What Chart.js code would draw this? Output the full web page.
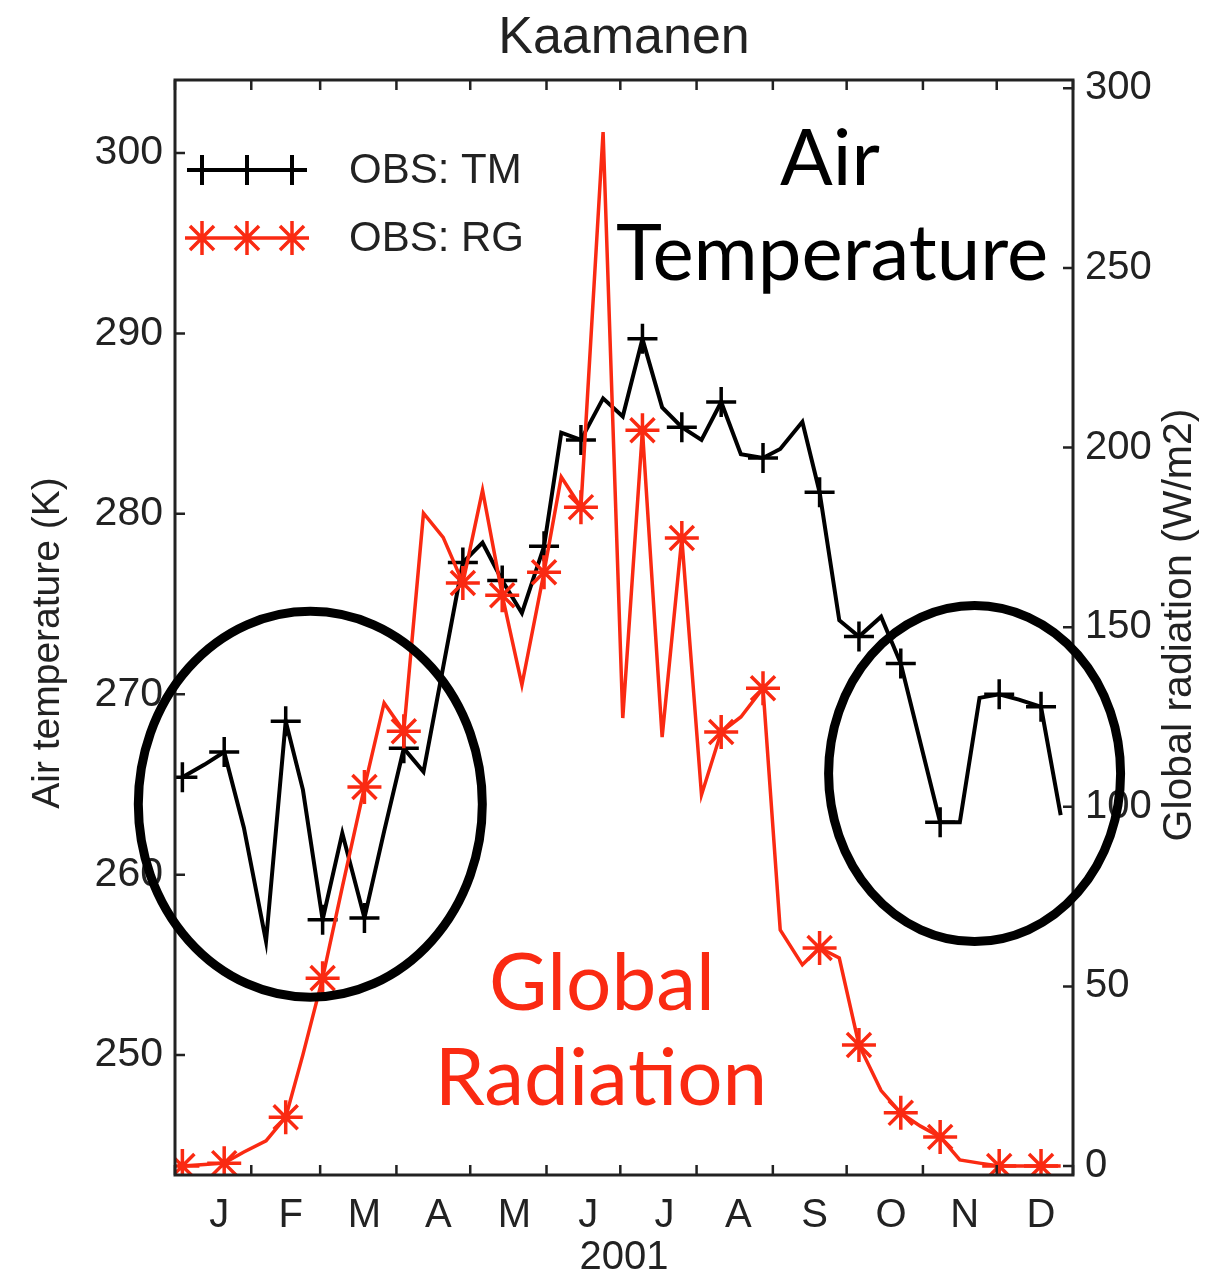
<!DOCTYPE html>
<html>
<head>
<meta charset="utf-8">
<script src="https://cdn.jsdelivr.net/npm/chart.js@4.4.0/dist/chart.umd.min.js"></script>
<style>
  html, body { margin: 0; padding: 0; background: #fff; }
  #wrap { width: 1228px; height: 1276px; }
</style>
</head>
<body>
<div id="wrap"><canvas id="myChart"></canvas></div>
<script>
// Kaamanen 2001
var days = [3, 12, 20, 28, 37, 45, 52, 60, 68, 77, 85, 93, 101, 109, 117, 125, 133, 141, 150, 157,
            165, 174, 182, 190, 198, 206, 214, 222, 230, 239, 246, 255, 262, 270, 278, 287, 295, 303,
            311, 319, 327, 335, 343, 352, 360];
var tempK = [265.4, 266.1, 266.8, 262.6, 256.3, 268.5, 264.7, 257.5, 262.3, 257.6, 262.4, 267.0, 265.7,
             271.5, 277.3, 278.4, 276.3, 274.5, 278.2, 284.5, 284.1, 286.4, 285.4, 289.7, 285.9, 284.8,
             284.1, 286.2, 283.3, 283.1, 283.6, 285.1, 281.2, 274.1, 273.2, 274.3, 271.7, 267.3, 262.9,
             262.9, 269.8, 270.0, 269.7, 269.3, 263.3];
var radWm2 = [0, 0.4, 0.8, 3.9, 7, 13.6, 31, 52.3, 77.6, 105.5, 128.9, 121.0, 181.7, 175, 162.3, 188.1,
              158.9, 133.9, 165.3, 191.8, 183.4, 287.8, 124.7, 204.8, 119.4, 174.8, 103.3, 120.8, 125,
              133, 65.7, 56, 60.7, 57.9, 33.7, 21, 14.8, 11.1, 8.1, 1.7, 0.8, 0, 0, 0, 0];
// pontos com marcador
var withMarker = [1,0,1,0,0,1,0,1,0,1,0,1,0,0,1,0,1,0,1,0,1,0,0,1,0,1,0,1,0,1,0,0,1,0,1,0,1,0,1,0,0,1,0,1,0];

var monthLabels = ['J', 'F', 'M', 'A', 'M', 'J', 'J', 'A', 'S', 'O', 'N', 'D'];
var monthLabelDays = [18, 47, 77, 107, 138, 168, 199, 229, 260, 291, 321, 352];
var monthStart = [0, 31, 59, 90, 120, 151, 181, 212, 243, 273, 304, 334, 365];
var tempTicks = [250, 260, 270, 280, 290, 300];
var radTicks = [0, 50, 100, 150, 200, 250, 300];

var RED = '#fa2a12';
var INK = '#222';
var SANS = '"Liberation Sans", Arial, sans-serif';
var GILL = 'Lato, "Open Sans", sans-serif';

function pts(vals) {
    return days.map(function (d, i) { return { x: d, y: vals[i] }; });
}
function radius(r) {
    return withMarker.map(function (m) { return m ? r : 0; });
}

// texto centrado em pedacos (evita a ligadura "ti" da Lato)
function centeredParts(ctx, parts, cx, y) {
    var total = 0;
    parts.forEach(function (p) { total += ctx.measureText(p).width; });
    var x = cx - total / 2;
    ctx.textAlign = 'left';
    parts.forEach(function (p) {
        ctx.fillText(p, x, y);
        x += ctx.measureText(p).width;
    });
    ctx.textAlign = 'center';
}

// desenha moldura, ticks para dentro, legenda, titulos e anotacoes
var decor = {
    id: 'decor',
    afterDraw: function (chart) {
        var ctx = chart.ctx, a = chart.chartArea;
        var sx = chart.scales.x, sT = chart.scales.y, sR = chart.scales.y1;
        ctx.save();

        ctx.strokeStyle = INK;
        ctx.lineWidth = 3;
        ctx.strokeRect(a.left, a.top, a.right - a.left, a.bottom - a.top);

        ctx.lineWidth = 2.5;
        ctx.beginPath();
        monthStart.forEach(function (d) {
            var px = sx.getPixelForValue(d);
            ctx.moveTo(px, a.bottom); ctx.lineTo(px, a.bottom - 10);
            ctx.moveTo(px, a.top); ctx.lineTo(px, a.top + 10);
        });
        tempTicks.forEach(function (v) {
            var py = sT.getPixelForValue(v);
            ctx.moveTo(a.left, py); ctx.lineTo(a.left + 10, py);
        });
        radTicks.forEach(function (v) {
            var py = sR.getPixelForValue(v);
            ctx.moveTo(a.right, py); ctx.lineTo(a.right - 10, py);
        });
        ctx.stroke();

        // titulo
        ctx.fillStyle = INK;
        ctx.textAlign = 'center';
        ctx.textBaseline = 'middle';
        ctx.font = '52px ' + SANS;
        ctx.fillText('Kaamanen', (a.left + a.right) / 2, 39);

        ctx.font = '40px ' + SANS;
        ctx.fillText('2001', (a.left + a.right) / 2, 1258);

        ctx.save();
        ctx.translate(48, 643);
        ctx.rotate(-Math.PI / 2);
        ctx.font = '39px ' + SANS;
        ctx.fillText('Air temperature (K)', 0, 0);
        ctx.restore();

        ctx.save();
        ctx.translate(1180, 625);
        ctx.rotate(-Math.PI / 2);
        ctx.font = '41px ' + SANS;
        ctx.fillText('Global radiation (W/m2)', 0, 0);
        ctx.restore();

        // legenda
        var lx = [202, 247, 292];
        ctx.lineWidth = 4;
        ctx.strokeStyle = '#000';
        ctx.beginPath();
        ctx.moveTo(188, 170); ctx.lineTo(306, 170);
        lx.forEach(function (x) {
            ctx.moveTo(x - 15, 170); ctx.lineTo(x + 15, 170);
            ctx.moveTo(x, 155); ctx.lineTo(x, 185);
        });
        ctx.stroke();
        ctx.strokeStyle = RED;
        ctx.lineWidth = 3.5;
        ctx.beginPath();
        ctx.moveTo(188, 238); ctx.lineTo(306, 238);
        lx.forEach(function (x) {
            for (var k = 0; k < 4; k++) {
                var ang = k * Math.PI / 4;
                ctx.moveTo(x - 17 * Math.cos(ang), 238 - 17 * Math.sin(ang));
                ctx.lineTo(x + 17 * Math.cos(ang), 238 + 17 * Math.sin(ang));
            }
        });
        ctx.stroke();
        ctx.fillStyle = INK;
        ctx.textAlign = 'left';
        ctx.font = '42px ' + SANS;
        ctx.fillText('OBS: TM', 349, 171);
        ctx.fillText('OBS: RG', 349, 239);

        // anotacoes
        ctx.textAlign = 'center';
        ctx.textBaseline = 'alphabetic';
        ctx.fillStyle = '#000';
        ctx.font = '78px ' + GILL;
        ctx.fillText('Air', 830, 185);
        ctx.fillText('Temperature', 832, 280);
        ctx.fillStyle = RED;
        ctx.font = '80px ' + GILL;
        ctx.fillText('Global', 602, 1010);
        centeredParts(ctx, ['Radia', 'tion'], 601, 1105);

        ctx.strokeStyle = '#000';
        ctx.lineWidth = 9;
        ctx.beginPath();
        ctx.ellipse(sx.getPixelForValue(55), sT.getPixelForValue(263.9), 172, 193, 0, 0, Math.PI * 2);
        ctx.stroke();
        ctx.beginPath();
        ctx.ellipse(sx.getPixelForValue(325), sT.getPixelForValue(265.6), 146, 168, 0, 0, Math.PI * 2);
        ctx.stroke();

        ctx.restore();
    }
};

function gerarChart() {
    Chart.defaults.font.family = SANS;
    Chart.defaults.color = INK;

    var config = {
        type: 'line',
        data: {
            datasets: [{
                label: 'OBS: RG',
                data: pts(radWm2),
                yAxisID: 'y1',
                borderColor: RED,
                borderWidth: 3.5,
                pointStyle: 'star',
                pointRadius: radius(17),
                pointBorderColor: RED,
                pointBorderWidth: 3.5,
                tension: 0,
                order: 0
            }, {
                label: 'OBS: TM',
                data: pts(tempK),
                yAxisID: 'y',
                borderColor: '#000',
                borderWidth: 4,
                pointStyle: 'cross',
                pointRadius: radius(15),
                pointBorderColor: '#000',
                pointBorderWidth: 3.5,
                tension: 0,
                order: 1
            }]
        },
        options: {
            responsive: false,
            animation: false,
            layout: { padding: { top: 80, left: 0, right: 0, bottom: 0 } },
            plugins: { legend: { display: false }, tooltip: { enabled: false }, title: { display: false } },
            scales: {
                x: {
                    type: 'linear', position: 'bottom', min: 0, max: 365,
                    grid: { display: false, drawTicks: false }, border: { display: false },
                    afterBuildTicks: function (s) { s.ticks = monthLabelDays.map(function (v) { return { value: v }; }); },
                    afterFit: function (s) { s.height = 101; },
                    ticks: {
                        autoSkip: false, maxRotation: 0, padding: 17,
                        font: { size: 40 }, color: INK,
                        callback: function (v, i) { return monthLabels[i]; }
                    }
                },
                y: {
                    type: 'linear', position: 'left', min: 243.35, max: 304.05,
                    grid: { display: false, drawTicks: false }, border: { display: false },
                    afterBuildTicks: function (s) { s.ticks = tempTicks.map(function (v) { return { value: v }; }); },
                    afterFit: function (s) { s.width = 175; },
                    ticks: { padding: 12, font: { size: 41 }, color: INK }
                },
                y1: {
                    type: 'linear', position: 'right', min: -2.5, max: 302.3,
                    grid: { display: false, drawTicks: false }, border: { display: false },
                    afterBuildTicks: function (s) { s.ticks = radTicks.map(function (v) { return { value: v }; }); },
                    afterFit: function (s) { s.width = 155; },
                    ticks: { padding: 12, font: { size: 40 }, color: INK }
                }
            }
        },
        plugins: [decor]
    };

    var canvas = document.getElementById('myChart');
    canvas.width = 1228;
    canvas.height = 1276;
    var myChart = new Chart(canvas, config);
}

gerarChart();
</script>
</body>
</html>
